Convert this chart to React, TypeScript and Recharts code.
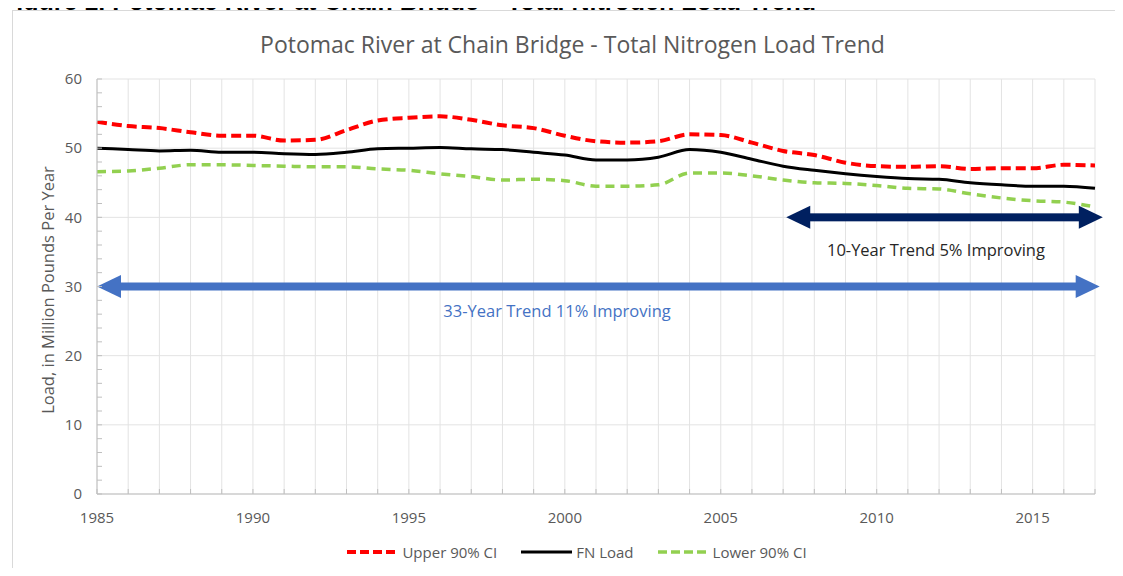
import { LineChart, Line, XAxis, YAxis, CartesianGrid, ReferenceLine, ReferenceDot, Legend } from 'recharts';

const years = [
  1985, 1986, 1987, 1988, 1989, 1990, 1991, 1992, 1993, 1994, 1995,
  1996, 1997, 1998, 1999, 2000, 2001, 2002, 2003, 2004, 2005, 2006,
  2007, 2008, 2009, 2010, 2011, 2012, 2013, 2014, 2015, 2016, 2017,
];

const upperCI = [
  53.8, 53.2, 52.9, 52.3, 51.8, 51.8, 51.1, 51.2, 52.6, 54.0, 54.4,
  54.6, 54.1, 53.3, 52.9, 51.8, 51.0, 50.8, 51.0, 52.0, 51.9, 50.8,
  49.6, 49.0, 47.9, 47.4, 47.3, 47.4, 47.0, 47.1, 47.1, 47.6, 47.5,
];

const fnLoad = [
  50.0, 49.8, 49.6, 49.7, 49.4, 49.4, 49.2, 49.1, 49.4, 49.9, 50.0,
  50.1, 49.9, 49.8, 49.4, 49.0, 48.3, 48.3, 48.7, 49.8, 49.4, 48.4,
  47.4, 46.8, 46.3, 45.9, 45.6, 45.5, 45.0, 44.7, 44.5, 44.5, 44.2,
];

const lowerCI = [
  46.6, 46.7, 47.1, 47.6, 47.6, 47.5, 47.4, 47.3, 47.3, 47.0, 46.8,
  46.3, 45.9, 45.4, 45.5, 45.3, 44.5, 44.5, 44.7, 46.4, 46.4, 46.0,
  45.4, 45.0, 44.9, 44.6, 44.2, 44.1, 43.4, 42.8, 42.4, 42.2, 41.5,
];

const yTicks = [0, 2, 4, 6, 8, 10, 12, 14, 16, 18, 20, 22, 24, 26, 28, 30, 32, 34, 36, 38, 40, 42, 44, 46, 48, 50, 52, 54, 56, 58, 60];
const yGrid = [0, 10, 20, 30, 40, 50, 60];

// trend arrows: [start year, end year, level]
const longTrend = [1985, 2017.15, 30];
const shortTrend = [2007.1, 2017.25, 40];
const longTrendText = '33-Year Trend 11% Improving';
const shortTrendText = '10-Year Trend 5% Improving';

const series = [
  { key: 'upper', name: 'Upper 90% CI', color: '#FF0000', width: 4, dash: '10 5' },
  { key: 'fn', name: 'FN Load', color: '#000000', width: 3, dash: undefined },
  { key: 'lower', name: 'Lower 90% CI', color: '#92D050', width: 3.5, dash: '9 6' },
];

const data = years.map((year, i) => ({
  year,
  upper: upperCI[i],
  fn: fnLoad[i],
  lower: lowerCI[i],
}));

const FONT = '"Open Sans", "Liberation Sans", sans-serif';
const GREY = '#595959';

function arrow(color: string) {
  return (p: any) => {
    const left = Math.min(p.x1, p.x2);
    const right = Math.max(p.x1, p.x2);
    const y = p.y1;
    const head = 24;
    const half = 11.5;
    const thick = 8;
    return (
      <g>
        <rect x={left + head - 1} y={y - thick / 2} width={right - left - 2 * head + 2} height={thick} fill={color} />
        <polygon points={`${left},${y} ${left + head},${y - half} ${left + head},${y + half}`} fill={color} />
        <polygon points={`${right},${y} ${right - head},${y - half} ${right - head},${y + half}`} fill={color} />
      </g>
    );
  };
}

function LegendContent() {
  return (
    <div style={{ display: 'flex', justifyContent: 'center', alignItems: 'center', paddingLeft: 22, paddingTop: 16, fontFamily: FONT, fontSize: 15, color: GREY }}>
      {series.map((s) => (
        <div key={s.key} style={{ display: 'flex', alignItems: 'center', margin: '0 12px' }}>
          <svg width={51} height={10} style={{ marginRight: 4 }}>
            <line x1={0} y1={5} x2={51} y2={5} stroke={s.color} strokeWidth={s.width} strokeDasharray={s.dash ? '9 4' : undefined} />
          </svg>
          <span>{s.name}</span>
        </div>
      ))}
    </div>
  );
}

export default function App() {
  return (
    <div style={{ position: 'relative', width: 1123, height: 576, margin: -8, overflow: 'hidden', background: '#fff', fontFamily: FONT }}>
      <div style={{ position: 'absolute', left: 1, top: -13, whiteSpace: 'nowrap', fontFamily: '"Liberation Sans", Arial, sans-serif', fontWeight: 'bold', fontSize: 25, lineHeight: '29px' }}>
        Figure 1. Potomac River at Chain Bridge – Total Nitrogen Load Trend
      </div>
      <div style={{ position: 'absolute', left: 12, top: 10, width: 1125, height: 600, border: '1px solid #d9d9d9', background: '#fff' }} />
      <div style={{ position: 'absolute', left: 0, top: 28, width: 1145, textAlign: 'center', fontSize: 23, color: GREY }}>
        Potomac River at Chain Bridge - Total Nitrogen Load Trend
      </div>
      <div style={{ position: 'absolute', left: 0, top: 0 }}>
        <LineChart width={1123} height={576} data={data} margin={{ top: 79, right: 28, bottom: 14, left: 37 }}>
          <CartesianGrid stroke="#e3e3e3" horizontalValues={yGrid} />
          <XAxis
            dataKey="year"
            type="number"
            domain={[1985, 2017]}
            ticks={years}
            interval={0}
            height={32}
            tickSize={-5}
            tickMargin={23}
            tickFormatter={(v: number) => (v % 5 === 0 ? String(v) : '')}
            stroke="#bfbfbf"
            tick={{ fill: GREY, fontSize: 15, fontFamily: FONT }}
          />
          <YAxis
            type="number"
            domain={[0, 60]}
            ticks={yTicks}
            interval={0}
            width={60}
            tickSize={-5}
            tickMargin={20}
            tickFormatter={(v: number) => (v % 10 === 0 ? String(v) : '')}
            stroke="#bfbfbf"
            tick={{ fill: GREY, fontSize: 15, fontFamily: FONT }}
            label={{
              content: () => (
                <text transform="rotate(-90)" x={-290} y={54} textAnchor="middle" fill={GREY} fontSize={16.5} fontFamily={FONT}>
                  Load, in Million Pounds Per Year
                </text>
              ),
            }}
          />
          <Legend verticalAlign="bottom" height={36} content={<LegendContent />} />
          {series.map((s) => (
            <Line
              key={s.key}
              dataKey={s.key}
              name={s.name}
              type="monotone"
              stroke={s.color}
              strokeWidth={s.width}
              strokeDasharray={s.dash}
              dot={false}
              isAnimationActive={false}
            />
          ))}
          <ReferenceLine
            segment={[{ x: longTrend[0], y: longTrend[2] }, { x: longTrend[1], y: longTrend[2] }]}
            ifOverflow="visible"
            shape={arrow('#4472C4')}
          />
          <ReferenceLine
            segment={[{ x: shortTrend[0], y: shortTrend[2] }, { x: shortTrend[1], y: shortTrend[2] }]}
            ifOverflow="visible"
            shape={arrow('#002060')}
          />
          <ReferenceDot
            x={1999.75}
            y={26.5}
            r={0}
            ifOverflow="visible"
            shape={() => <g />}
            label={{ value: longTrendText, position: 'center', fill: '#4472C4', fontSize: 16.5, fontFamily: FONT }}
          />
          <ReferenceDot
            x={2011.9}
            y={35.3}
            r={0}
            ifOverflow="visible"
            shape={() => <g />}
            label={{ value: shortTrendText, position: 'center', fill: '#262626', fontSize: 16.5, fontFamily: FONT }}
          />
        </LineChart>
      </div>
    </div>
  );
}
